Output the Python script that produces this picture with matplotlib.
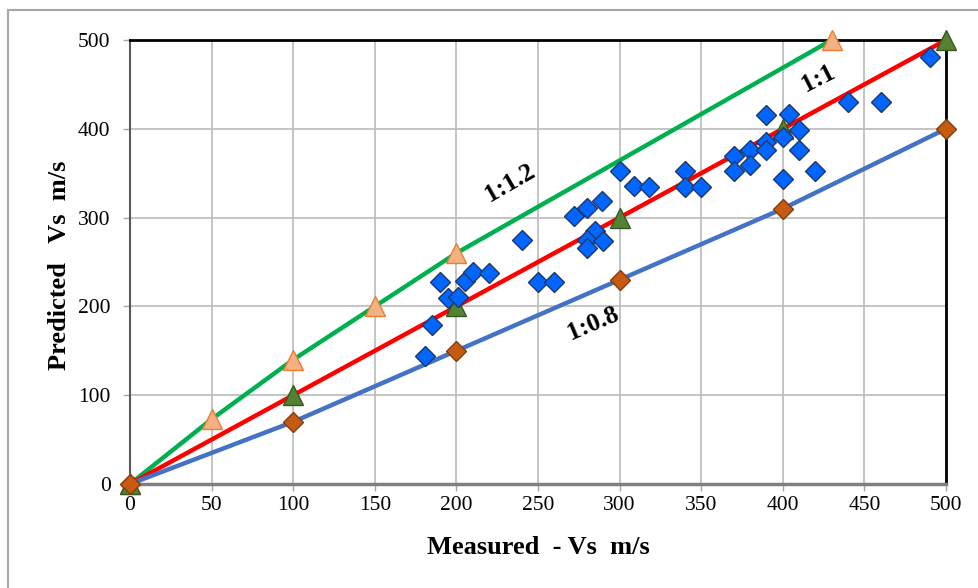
import matplotlib.pyplot as plt
from matplotlib.lines import Line2D

plt.rcParams['font.family'] = ['Liberation Serif', 'DejaVu Serif']

# reference series (x = measured, y = predicted)
ratio12_x = [0, 50, 100, 150, 200, 430]
ratio12_y = [0, 73, 140, 200, 260, 500]
ratio1_x = [0, 100, 200, 300, 400, 500]
ratio1_y = [0, 100, 200, 300, 400, 500]
ratio08_x = [0, 100, 200, 300, 400, 500]
ratio08_y = [0, 70, 150, 230, 310, 400]

# measured vs predicted Vs
meas = [181, 185, 190, 195, 201, 205, 210, 220, 240, 250, 260, 272, 280, 285,
        280, 290, 280, 289, 300, 309, 318, 340, 340, 350, 370, 370, 380, 380,
        390, 390, 390, 400, 404, 410, 410, 400, 420, 440, 460, 490]
pred = [144, 179, 228, 209, 211, 229, 239, 238, 275, 228, 228, 302, 311, 285,
        275, 274, 266, 319, 352, 336, 335, 352, 335, 335, 369, 352, 376, 359,
        415, 385, 376, 391, 417, 399, 376, 343, 352, 430, 430, 481]

ticks = [0, 50, 100, 150, 200, 250, 300, 350, 400, 450, 500]

W, H = 979, 588
fig = plt.figure(figsize=(W / 100, H / 100), dpi=100)
ax = fig.add_axes([130 / W, 1 - 484 / H, (946 - 130) / W, (484 - 40) / H])

ax.plot(ratio12_x, ratio12_y, color='#00B050', lw=3.2, marker='^', ms=15,
        mfc='#F4B183', mec='#ED7D31', mew=1, zorder=3, clip_on=False)
ax.plot(ratio1_x, ratio1_y, color='#FF0000', lw=3.2, marker='^', ms=15,
        mfc='#548235', mec='#385723', mew=1, zorder=4, clip_on=False)
ax.plot(ratio08_x, ratio08_y, color='#4472C4', lw=3.2, marker='D', ms=10,
        mfc='#C55A11', mec='#843C0C', mew=1, zorder=5, clip_on=False)
ax.plot(meas, pred, ls='none', marker='D', ms=10, mfc='#0066FF',
        mec='#1F3864', mew=1, zorder=6, clip_on=False)

ax.text(233, 339, '1:1.2', rotation=30, fontsize=18.5, fontweight='bold',
        ha='center', va='center', zorder=7)
ax.text(422, 457, '1:1', rotation=27, fontsize=18.5, fontweight='bold',
        ha='center', va='center', zorder=7)
ax.text(284, 181, '1:0.8', rotation=23, fontsize=18.5, fontweight='bold',
        ha='center', va='center', zorder=7)

ax.set_xlim(0, 500)
ax.set_ylim(0, 500)
ax.set_xticks(ticks)
ax.set_yticks(ticks[::2])
ax.grid(True, color='#BFBFBF', lw=1.3)
ax.set_axisbelow(True)
ax.tick_params(labelsize=15.5, length=5, width=1, color='#A6A6A6')
ax.tick_params(axis='x', pad=4)
ax.tick_params(axis='y', pad=9)

ax.spines['top'].set_color('black')
ax.spines['top'].set_linewidth(2)
ax.spines['right'].set_color('black')
ax.spines['right'].set_linewidth(2)
ax.spines['left'].set_color('#595959')
ax.spines['left'].set_linewidth(1.5)
ax.spines['bottom'].set_color('#808080')
ax.spines['bottom'].set_linewidth(2.5)

fig.text(538 / W, 1 - 547 / H, 'Measured  - Vs  m/s', fontsize=19,
         fontweight='bold', ha='center', va='center')
fig.text(60 / W, 1 - 265 / H, 'Predicted   Vs  m/s', fontsize=19,
         fontweight='bold', ha='center', va='center', rotation=90)

# outer chart frame (only left and top edges visible)
fig.add_artist(Line2D([8 / W, 8 / W], [0, 1 - 10 / H], color='#A6A6A6', lw=1.5))
fig.add_artist(Line2D([8 / W, 1], [1 - 10 / H, 1 - 10 / H], color='#A6A6A6', lw=1.5))

fig.savefig('out.png', dpi=100)
